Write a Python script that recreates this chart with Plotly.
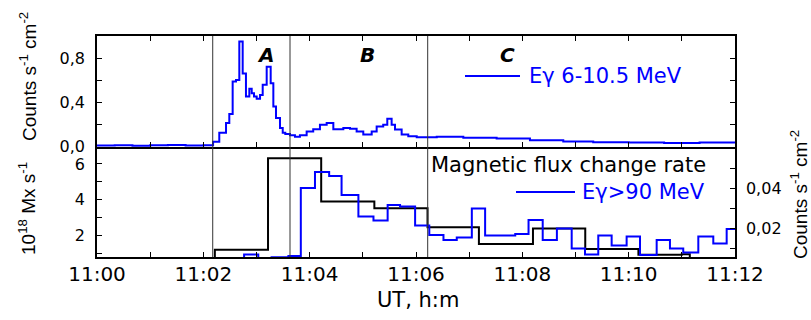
import plotly.graph_objects as go

# ---------------- data ----------------
# time in seconds after 11:00 UT
t_low = [0, 20, 40, 60, 80, 100, 120, 131, 138, 145.6, 149.3, 153.1, 156.9, 160.6, 164.4, 168.1,
         171.9, 174.6, 177.2, 180.2, 184, 187, 191.5, 196, 199, 202, 206.5, 209.6, 212.5, 217.8,
         223.4, 229, 236.6, 244, 251.6, 259.2, 266.7, 274.2, 278, 285.5, 293, 300.5, 310, 315.6,
         323, 327.6, 332.5, 336.3, 343.8, 351.3, 360.8, 383.4, 413.4, 451, 488.6, 526.2, 560,
         600, 640, 680, 720]
flux_low = [0.004, 0.008, 0.003, 0.006, 0.009, 0.004, 0.007, 0.038, 0.12, 0.21, 0.29, 0.587, 0.60,
            0.95, 0.66, 0.45, 0.52, 0.48, 0.45, 0.43, 0.464, 0.557, 0.72, 0.57, 0.36, 0.255, 0.163,
            0.12, 0.109, 0.098, 0.084, 0.098, 0.133, 0.153, 0.194, 0.21, 0.153, 0.153, 0.163, 0.158,
            0.133, 0.104, 0.133, 0.178, 0.194, 0.247, 0.194, 0.15, 0.104, 0.089, 0.08, 0.084, 0.074,
            0.068, 0.053, 0.041, 0.035, 0.031, 0.028, 0.032, 0.03]

t_mag = [120, 133, 193, 253, 313, 373, 431, 492, 551, 611, 660, 669]
mag_rate = [0.5, 1.2, 6.32, 3.9, 3.53, 2.46, 1.53, 2.4, 1.25, 0.93, 0.95, 0.5]

t_high = [150, 166, 182, 197, 216, 230, 246, 262, 276, 295, 312, 328, 342, 359, 375, 391, 406,
          423, 438, 456, 472, 487, 503, 519, 535.7, 550.7, 565.7, 580.8, 597.7, 612.8, 631.6,
          646.6, 661.6, 678.6, 695.5, 710.6, 720]
flux_high = [0.004, 0.0068, 0.004, 0.0054, 0.006, 0.040, 0.048, 0.046, 0.0365, 0.0257, 0.0237,
             0.0315, 0.0307, 0.0212, 0.0165, 0.014, 0.0152, 0.0298, 0.0162, 0.0162, 0.017, 0.024,
             0.014, 0.0198, 0.0098, 0.0067, 0.0162, 0.0112, 0.0157, 0.0065, 0.014, 0.0098, 0.0077,
             0.0157, 0.0123, 0.0195, 0.0195]

phase_bounds = [130.6, 217.8, 373.2]
phase_names = ["A", "B", "C"]
phase_label_x = [189.6, 304.7, 463.8]

x_tickvals = [0, 120, 240, 360, 480, 600, 720]
x_ticktext = ["11:00", "11:02", "11:04", "11:06", "11:08", "11:10", "11:12"]
top_tickvals = [0, 0.4, 0.8]
top_ticktext = ["0,0", "0,4", "0,8"]
mag_tickvals = [2, 4, 6]
mag_ticktext = ["2", "4", "6"]
high_tickvals = [0.02, 0.04]
high_ticktext = ["0,02", "0,04"]

# ---------------- layout helpers ----------------
W, H = 811, 320
L, R, T, B = 97, 76, 36, 63
PW, PH = W - L - R, H - T - B


def px(x):
    return (x - L) / PW


def py(y):
    return (H - B - y) / PH


split = py(147)
BLUE = "#0000ff"
HFONT = "DejaVu Sans"
VFONT = "Liberation Sans"

fig = go.Figure()
fig.add_trace(go.Scatter(x=t_low, y=flux_low, mode="lines", line=dict(color=BLUE, width=2, shape="hv"),
                         xaxis="x2", yaxis="y", showlegend=False))
fig.add_trace(go.Scatter(x=t_mag, y=mag_rate, mode="lines", line=dict(color="black", width=2, shape="hv"),
                         xaxis="x", yaxis="y2", showlegend=False))
fig.add_trace(go.Scatter(x=t_high, y=flux_high, mode="lines", line=dict(color=BLUE, width=2, shape="hv"),
                         xaxis="x", yaxis="y3", showlegend=False))

axcommon = dict(showline=True, linecolor="black", linewidth=1.5, ticks="inside", ticklen=5,
                tickwidth=1, tickcolor="black", showgrid=False, zeroline=False)
xfont = dict(family=HFONT, size=20, color="black")
yfont = dict(family=HFONT, size=16, color="black")


def minor(d):
    return dict(dtick=d, ticks="inside", ticklen=5, tickwidth=1, tickcolor="black", showgrid=False)


fig.update_layout(
    width=W, height=H, margin=dict(l=L, r=R, t=T, b=B),
    paper_bgcolor="white", plot_bgcolor="white", separators=", ",
    xaxis=dict(domain=[0, 1], anchor="y2", range=[0, 720], tickmode="array", tickvals=x_tickvals,
               ticktext=x_ticktext, mirror=False, ticklabelstandoff=-2, minor=minor(60),
               tickfont=xfont, **axcommon),
    xaxis2=dict(domain=[0, 1], anchor="y", matches="x", range=[0, 720], tickmode="array",
                tickvals=x_tickvals, showticklabels=False, mirror="ticks", minor=minor(60), **axcommon),
    yaxis=dict(domain=[split, 1], anchor="x2", range=[-0.009, 1.0], tickmode="array",
               tickvals=top_tickvals, ticktext=top_ticktext, mirror="ticks", ticklabelstandoff=7,
               minor=minor(0.2), tickfont=yfont, **axcommon),
    yaxis2=dict(domain=[0, split], anchor="x", range=[0.8, 6.95], tickmode="array",
                tickvals=mag_tickvals, ticktext=mag_ticktext, ticklabelstandoff=7, minor=minor(1),
                tickfont=yfont, **axcommon),
    yaxis3=dict(overlaying="y2", side="right", anchor="x", range=[0.0055, 0.0605], tickmode="array",
                tickvals=high_tickvals, ticktext=high_ticktext, ticklabelstandoff=6, minor=minor(0.01),
                tickfont=yfont, **axcommon),
)

# phase boundaries
for xb in phase_bounds:
    fig.add_shape(type="line", xref="x", yref="paper", x0=xb, x1=xb, y0=0, y1=1,
                  line=dict(color="#333333", width=1))

# phase labels
for name, xl in zip(phase_names, phase_label_x):
    fig.add_annotation(x=xl, y=py(55), xref="x", yref="paper", text=f"<b><i>{name}</i></b>",
                       showarrow=False, font=dict(family=HFONT, size=20, color="black"),
                       xanchor="center", yanchor="middle")

# legends
fig.add_shape(type="line", xref="paper", yref="paper", x0=px(465), x1=px(520), y0=py(76), y1=py(76),
              line=dict(color=BLUE, width=2))
fig.add_annotation(x=px(527), y=py(76), xref="paper", yref="paper", text="Eγ 6-10.5 MeV",
                   showarrow=False, font=dict(family=HFONT, size=21, color=BLUE),
                   xanchor="left", yanchor="middle")
fig.add_annotation(x=px(429), y=py(165), xref="paper", yref="paper", text="Magnetic flux change rate",
                   showarrow=False, font=dict(family=HFONT, size=21, color="black"),
                   xanchor="left", yanchor="middle")
fig.add_shape(type="line", xref="paper", yref="paper", x0=px(516), x1=px(575), y0=py(192), y1=py(192),
              line=dict(color=BLUE, width=2))
fig.add_annotation(x=px(580), y=py(192), xref="paper", yref="paper", text="Eγ>90 MeV",
                   showarrow=False, font=dict(family=HFONT, size=21, color=BLUE),
                   xanchor="left", yanchor="middle")

# axis titles
fig.add_annotation(x=px(28), y=py(77), xref="paper", yref="paper",
                   text="Counts s<sup>-1</sup> cm<sup>-2</sup>", textangle=-90, showarrow=False,
                   font=dict(family=VFONT, size=19, color="black"), xanchor="center", yanchor="middle")
fig.add_annotation(x=px(27), y=py(209), xref="paper", yref="paper",
                   text="10<sup>18</sup> Mx s<sup>-1</sup>", textangle=-90, showarrow=False,
                   font=dict(family=VFONT, size=19, color="black"), xanchor="center", yanchor="middle")
fig.add_annotation(x=px(799), y=py(195), xref="paper", yref="paper",
                   text="Counts s<sup>-1</sup> cm<sup>-2</sup>", textangle=-90, showarrow=False,
                   font=dict(family=VFONT, size=19, color="black"), xanchor="center", yanchor="middle")
fig.add_annotation(x=px(418), y=py(300), xref="paper", yref="paper", text="UT, h:m",
                   showarrow=False, font=dict(family=HFONT, size=21, color="black"),
                   xanchor="center", yanchor="middle")

fig.write_html("out.html")
